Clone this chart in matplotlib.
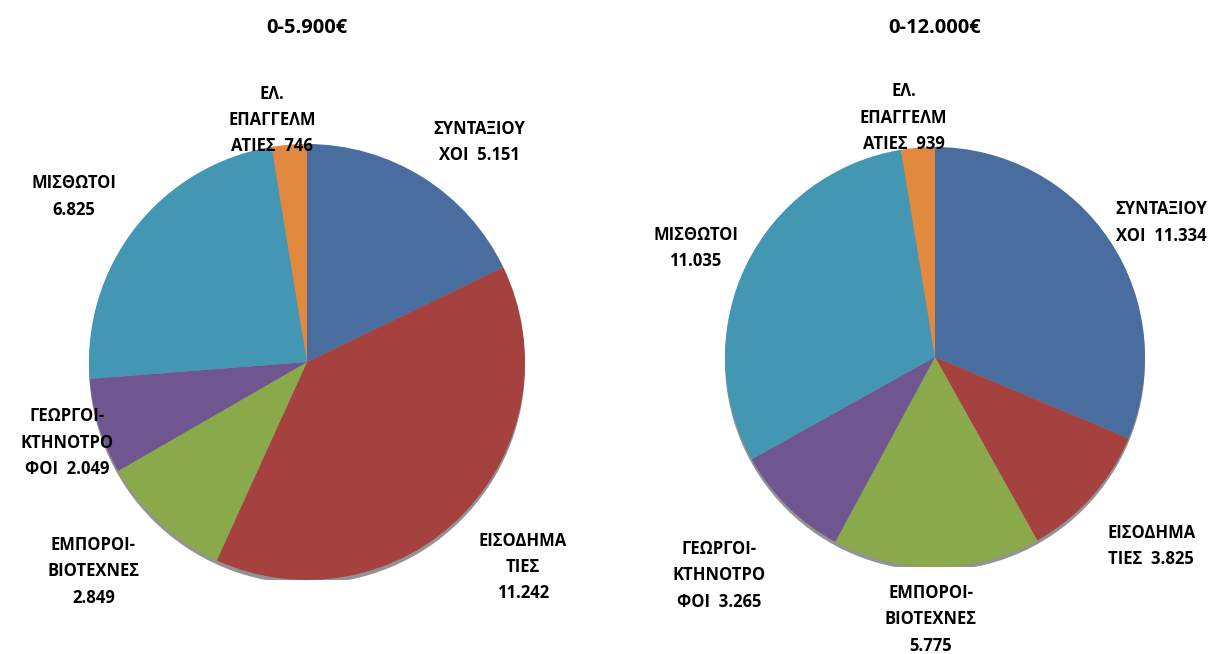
import matplotlib
matplotlib.use("Agg")
from matplotlib import pyplot as plt
from matplotlib.patches import Ellipse

# --- Data ---
CATEGORIES = [
    "ΣΥΝΤΑΞΙΟΥ\nΧΟΙ",
    "ΕΙΣΟΔΗΜΑ\nΤΙΕΣ",
    "ΕΜΠΟΡΟΙ-\nΒΙΟΤΕΧΝΕΣ",
    "ΓΕΩΡΓΟΙ-\nΚΤΗΝΟΤΡΟ\nΦΟΙ",
    "ΜΙΣΘΩΤΟΙ",
    "ΕΛ.\nΕΠΑΓΓΕΛΜ\nΑΤΙΕΣ",
]
VALUES_LOW = [5151, 11242, 2849, 2049, 6825, 746]
VALUES_HIGH = [11334, 3825, 5775, 3265, 11035, 939]
TITLE_LOW = "0-5.900€"
TITLE_HIGH = "0-12.000€"

COLORS = ["#4A6DA0", "#A5423F", "#89A94B", "#6F5690", "#4497B2", "#E0893F"]

W, H = 1223, 654
TITLE_Y = 28  # px from top


def fmt(v):
    return f"{v:,}".replace(",", ".")


def draw_pie(cx, cy, r, values, title, label_specs):
    ax = fig.add_axes([(cx - r) / W, (H - cy - r) / H, 2 * r / W, 2 * r / H])
    # soft rim under the pie, like the 3d look of the original
    ax.add_patch(Ellipse((0, -0.018), 2.0, 2.0, color="#3a3a3a", alpha=0.55,
                         zorder=0, lw=0))
    ax.pie(values, colors=COLORS, startangle=90, counterclock=False,
           radius=1.0, wedgeprops=dict(linewidth=0, zorder=1))
    ax.set_xlim(-1, 1)
    ax.set_ylim(-1, 1)
    ax.set_aspect("auto")
    ax.axis("off")

    # label anchors are given relative to the pie centre, in radius units
    for cat, v, (lx, ly, sep) in zip(CATEGORIES, values, label_specs):
        ax.text(lx, ly, f"{cat}{sep}{fmt(v)}",
                ha="center", va="center", fontsize=12, fontweight="bold",
                family="Open Sans", linespacing=1.6, clip_on=False)

    ax.text(0, (cy - TITLE_Y) / r, title, ha="center", va="center", fontsize=14.5,
            fontweight="bold", family="Open Sans", clip_on=False)


fig = plt.figure(figsize=(W / 100, H / 100), dpi=100)

# (x, y, separator before value)
specs_low = [(0.79, 1.01, "  "), (0.99, -0.94, "\n"), (-0.98, -0.96, "\n"),
             (-1.10, -0.37, "  "), (-1.07, 0.76, "\n"), (-0.16, 1.11, "  ")]
specs_high = [(1.08, 0.64, "  "), (1.03, -0.90, "  "), (-0.02, -1.25, "\n"),
              (-1.03, -1.04, "  "), (-1.14, 0.52, "\n"), (-0.15, 1.14, "  ")]

draw_pie(307, 362, 218, VALUES_LOW, TITLE_LOW, specs_low)
draw_pie(935, 357, 210, VALUES_HIGH, TITLE_HIGH, specs_high)

fig.savefig("out.png", dpi=100)
